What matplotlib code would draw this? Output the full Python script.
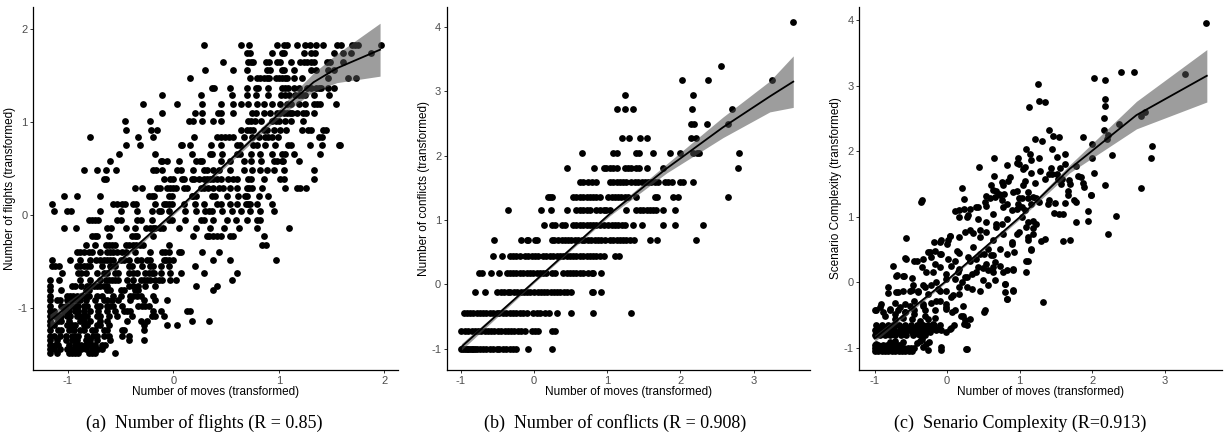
import numpy as np
from matplotlib import pyplot as plt

# ---------------------------------------------------------------- data
# (a) number of flights: one list of move values per flight level
flightLevels = [1.83, 1.74, 1.65, 1.56, 1.47, 1.37, 1.29, 1.20, 1.10, 1.01,
                0.92, 0.84, 0.75, 0.66, 0.58, 0.48, 0.39, 0.29, 0.20, 0.12,
                0.04, -0.05, -0.14, -0.23, -0.32, -0.40, -0.48, -0.55,
                -0.63, -0.70, -0.76, -0.81, -0.87, -0.92, -0.98, -1.03,
                -1.09, -1.14, -1.18, -1.24, -1.30, -1.35, -1.40, -1.44, -1.49]
movesByFlightLevel = [
  [0.29, 0.64, 0.72, 0.98, 1.05, 1.08, 1.17, 1.25, 1.30, 1.35, 1.42, 1.55,
   1.59, 1.69, 1.72, 1.75, 1.97],
  [0.70, 0.73, 0.94, 1.03, 1.05, 1.24, 1.31, 1.34, 1.52, 1.61, 1.68, 1.87],
  [0.47, 0.71, 0.74, 0.76, 0.88, 0.91, 0.98, 1.01, 1.12, 1.20, 1.24, 1.27,
   1.31, 1.33, 1.46, 1.49, 1.61],
  [0.30, 0.57, 0.70, 0.89, 0.92, 1.03, 1.05, 1.14, 1.31, 1.35, 1.47, 1.52],
  [0.16, 0.73, 0.79, 0.82, 0.86, 0.89, 0.91, 0.97, 1.00, 1.03, 1.06, 1.08,
   1.14, 1.22, 1.47, 1.66, 1.73],
  [0.37, 0.39, 0.54, 0.70, 0.78, 0.80, 0.90, 1.03, 1.06, 1.09, 1.14, 1.19,
   1.27, 1.31, 1.35, 1.38, 1.40, 1.47, 1.52],
  [-0.11, 0.26, 0.56, 0.70, 0.78, 0.90, 1.02, 1.06, 1.10, 1.15, 1.19, 1.22,
   1.25, 1.33, 1.48],
  [-0.29, 0.04, 0.27, 0.45, 0.57, 0.64, 0.71, 0.79, 0.86, 0.94, 1.01, 1.08,
   1.12, 1.19, 1.25, 1.33, 1.36, 1.39, 1.54],
  [-0.11, 0.21, 0.27, 0.42, 0.45, 0.57, 0.75, 0.78, 0.86, 0.92, 0.98, 1.01,
   1.05, 1.08, 1.11, 1.13, 1.17, 1.23, 1.26, 1.33],
  [-0.46, -0.22, 0.15, 0.19, 0.27, 0.38, 0.45, 0.71, 0.74, 0.77, 0.83, 0.94,
   0.97, 1.00, 1.06, 1.12, 1.23],
  [-0.45, -0.21, -0.15, 0.64, 0.70, 0.73, 0.76, 0.86, 0.89, 0.95, 1.01, 1.07,
   1.22, 1.28, 1.31, 1.42, 1.45],
  [-0.79, -0.33, -0.19, 0.20, 0.41, 0.45, 0.49, 0.53, 0.57, 0.67, 0.75, 0.81,
   0.87, 0.90, 0.94, 0.99, 1.38, 1.41],
  [-0.45, -0.32, 0.07, 0.08, 0.16, 0.36, 0.45, 0.60, 0.63, 0.76, 0.79, 0.87,
   0.96, 1.09, 1.12, 1.30, 1.41, 1.57, 1.58],
  [-0.51, -0.17, 0.18, 0.35, 0.37, 0.46, 0.60, 0.63, 0.74, 0.82, 0.94, 1.03,
   1.06, 1.14, 1.39],
  [-0.60, -0.12, -0.11, -0.06, 0.05, 0.22, 0.25, 0.27, 0.45, 0.54, 0.67, 0.74,
   0.83, 0.95, 0.98, 1.03, 1.04, 1.19],
  [-0.85, -0.72, -0.64, -0.54, -0.19, -0.16, -0.11, 0.04, 0.07, 0.19, 0.29,
   0.32, 0.38, 0.43, 0.54, 0.67, 0.75, 0.82, 0.89, 0.95, 1.05, 1.33],
  [-0.66, -0.64, -0.09, -0.03, 0.00, 0.08, 0.10, 0.18, 0.20, 0.24, 0.29, 0.32,
   0.35, 0.38, 0.41, 0.45, 0.52, 0.57, 0.60, 0.71, 0.74, 0.86, 1.01, 1.05,
   1.33],
  [-0.36, -0.30, -0.15, -0.13, -0.06, -0.03, 0.00, 0.03, 0.10, 0.13, 0.26,
   0.29, 0.33, 0.38, 0.43, 0.47, 0.54, 0.60, 0.70, 0.72, 0.75, 0.84, 1.06,
   1.17, 1.20, 1.26],
  [-1.04, -0.91, -0.69, -0.23, -0.20, -0.18, -0.04, -0.01, 0.18, 0.19, 0.22,
   0.37, 0.40, 0.51, 0.61, 0.68, 0.70, 0.81, 0.90],
  [-1.15, -0.57, -0.53, -0.49, -0.46, -0.38, -0.35, -0.17, -0.09, -0.07,
   -0.04, -0.01, 0.10, 0.21, 0.29, 0.41, 0.45, 0.54, 0.60, 0.69, 0.71, 0.73,
   0.79, 0.94],
  [-1.13, -1.01, -0.97, -0.69, -0.50, -0.34, -0.20, -0.14, -0.12, -0.04, 0.11,
   0.22, 0.30, 0.34, 0.37, 0.46, 0.56, 0.64, 0.73, 0.82, 0.95],
  [-0.80, -0.77, -0.74, -0.71, -0.53, -0.50, -0.34, -0.31, -0.20, -0.04,
   -0.01, 0.11, 0.26, 0.29, 0.38, 0.51, 0.59, 0.70, 0.79, 0.82],
  [-1.04, -0.92, -0.63, -0.59, -0.45, -0.36, -0.26, -0.22, -0.19, -0.17,
   -0.13, -0.10, 0.05, 0.22, 0.35, 0.48, 0.62, 0.79, 1.10],
  [-0.77, -0.74, -0.72, -0.61, -0.39, -0.36, -0.34, -0.19, 0.19, 0.32, 0.34,
   0.38, 0.41, 0.45, 0.54, 0.57, 0.86],
  [-0.83, -0.74, -0.64, -0.61, -0.58, -0.55, -0.45, -0.42, -0.38, -0.35,
   -0.32, -0.29, -0.04, 0.84, 0.88],
  [-0.91, -0.88, -0.85, -0.80, -0.77, -0.69, -0.63, -0.60, -0.57, -0.53,
   -0.49, -0.45, -0.36, -0.22, -0.11, -0.08, -0.04, 0.05, 0.07, 0.27, 0.43],
  [-1.15, -0.98, -0.88, -0.79, -0.73, -0.69, -0.66, -0.63, -0.60, -0.57,
   -0.50, -0.47, -0.42, -0.34, -0.31, -0.25, -0.22, -0.09, -0.07, -0.04,
   0.00, 0.38, 0.54, 0.97],
  [-1.15, -1.12, -1.08, -0.91, -0.88, -0.85, -0.82, -0.79, -0.68, -0.60,
   -0.55, -0.42, -0.39, -0.30, -0.22, -0.19, -0.12, -0.04, 0.21],
  [-1.05, -0.90, -0.87, -0.83, -0.72, -0.66, -0.63, -0.55, -0.52, -0.42,
   -0.38, -0.34, -0.27, -0.23, -0.20, -0.18, -0.12, -0.03, 0.07, 0.29, 0.60],
  [-1.17, -1.08, -0.88, -0.79, -0.69, -0.64, -0.61, -0.58, -0.55, -0.52,
   -0.44, -0.38, -0.31, -0.28, -0.25, -0.22, -0.17, -0.14, -0.11, -0.03,
   0.03, 0.56],
  [-1.17, -0.96, -0.93, -0.87, -0.82, -0.79, -0.75, -0.72, -0.69, -0.66,
   -0.63, -0.42, -0.38, -0.33, -0.27, -0.17, 0.22, 0.41],
  [-1.17, -1.06, -0.83, -0.80, -0.63, -0.60, -0.50, -0.47, -0.36, -0.33,
   0.38],
  [-1.17, -1.01, -0.98, -0.95, -0.91, -0.87, -0.83, -0.80, -0.72, -0.68,
   -0.57, -0.50, -0.41, -0.38, -0.34, -0.31, -0.19],
  [-1.17, -1.10, -1.07, -1.01, -0.96, -0.91, -0.88, -0.83, -0.74, -0.66,
   -0.63, -0.58, -0.52, -0.41, -0.28, -0.17, -0.06],
  [-1.17, -1.06, -1.02, -0.96, -0.93, -0.90, -0.85, -0.82, -0.72, -0.69,
   -0.63, -0.60, -0.57, -0.49, -0.33, -0.30, -0.27, -0.23],
  [-1.17, -1.13, -1.04, -0.99, -0.93, -0.90, -0.85, -0.79, -0.71, -0.63,
   -0.55, -0.47, -0.44, -0.41, -0.19, -0.12, 0.13, 0.16],
  [-1.17, -1.12, -1.09, -1.06, -1.01, -0.98, -0.91, -0.88, -0.85, -0.82,
   -0.72, -0.69, -0.61, -0.53, -0.39, -0.20, -0.17, -0.09],
  [-1.17, -1.09, -1.06, -0.99, -0.88, -0.85, -0.79, -0.69, -0.63, -0.44,
   -0.31, -0.25, 0.18, 0.34],
  [-1.17, -1.13, -1.01, -0.96, -0.93, -0.85, -0.82, -0.72, -0.69, -0.61,
   -0.28, -0.06, 0.04],
  [-1.17, -1.09, -1.06, -0.99, -0.94, -0.88, -0.85, -0.77, -0.74, -0.66,
   -0.63, -0.49, -0.47, -0.28],
  [-1.17, -1.13, -1.07, -1.02, -0.96, -0.93, -0.90, -0.82, -0.76, -0.72,
   -0.66, -0.61, -0.49, -0.42],
  [-1.17, -1.10, -1.02, -0.96, -0.91, -0.83, -0.79, -0.72, -0.60, -0.42,
   -0.28],
  [-1.17, -1.12, -1.09, -0.99, -0.93, -0.90, -0.87, -0.83, -0.80, -0.77,
   -0.74, -0.68, -0.65],
  [-1.17, -1.13, -1.07, -1.01, -0.98, -0.95, -0.90, -0.87, -0.83, -0.77,
   -0.74, -0.71, -0.68],
  [-1.17, -1.10, -0.99, -0.96, -0.93, -0.90, -0.80, -0.77, -0.74, -0.55],
]

# (b) number of conflicts: one list of move values per conflict level
conflictLevels = [4.07, 3.39, 3.17, 2.94, 2.72, 2.49, 2.27, 2.04, 1.81, 1.59,
                  1.36, 1.15, 0.93, 0.69, 0.44, 0.18, -0.12, -0.44, -0.73,
                  -1.00]
movesByConflictLevel = [
  [3.54],
  [2.56],
  [2.02, 2.38, 3.25],
  [1.24, 2.17],
  [1.13, 1.24, 1.35, 2.16, 2.71],
  [2.14, 2.18, 2.36, 2.65],
  [1.20, 1.30, 1.45, 1.54, 2.14, 2.21],
  [0.65, 1.08, 1.13, 1.40, 1.44, 1.62, 1.86, 1.99, 2.17, 2.22, 2.26, 2.80],
  [0.45, 0.82, 0.95, 0.99, 1.04, 1.08, 1.13, 1.24, 1.29, 1.33, 1.39, 1.44,
   1.54, 1.76, 2.79],
  [0.63, 0.67, 0.74, 0.79, 0.85, 1.04, 1.08, 1.13, 1.17, 1.22, 1.26, 1.33,
   1.38, 1.42, 1.47, 1.51, 1.56, 1.60, 1.65, 1.70, 1.79, 1.83, 1.88, 1.99,
   2.03, 2.17],
  [0.19, 0.22, 0.25, 0.54, 0.58, 0.63, 0.67, 0.72, 0.76, 0.81, 0.85, 0.90,
   1.01, 1.06, 1.10, 1.15, 1.19, 1.24, 1.28, 1.40, 1.65, 1.68, 1.90, 1.97,
   2.65],
  [-0.36, 0.10, 0.23, 0.45, 0.58, 0.63, 0.67, 0.72, 0.76, 0.85, 0.90, 0.95,
   0.99, 1.04, 1.26, 1.40, 1.45, 1.49, 1.54, 1.58, 1.63, 1.67, 1.76, 1.92],
  [0.14, 0.24, 0.29, 0.38, 0.42, 0.54, 0.58, 0.63, 0.67, 0.72, 0.76, 0.81,
   0.85, 0.90, 0.95, 1.01, 1.06, 1.10, 1.15, 1.20, 1.24, 1.35, 1.47, 1.76,
   1.92, 2.31],
  [-0.55, -0.18, -0.10, -0.08, 0.01, 0.04, 0.24, 0.28, 0.33, 0.38, 0.42,
   0.47, 0.51, 0.56, 0.60, 0.65, 0.69, 0.74, 0.78, 0.83, 0.87, 0.92, 0.97,
   1.04, 1.08, 1.13, 1.17, 1.22, 1.26, 1.31, 1.36, 1.59, 1.68, 2.21],
  [-0.56, -0.43, -0.33, -0.28, -0.24, -0.19, -0.12, -0.08, -0.03, 0.01, 0.06,
   0.13, 0.17, 0.22, 0.26, 0.31, 0.35, 0.40, 0.45, 0.49, 0.54, 0.58, 0.63,
   0.67, 0.72, 0.76, 0.81, 0.85, 0.90, 0.95, 1.10, 1.16],
  [-0.75, -0.71, -0.59, -0.47, -0.37, -0.33, -0.28, -0.24, -0.19, -0.15,
   -0.10, -0.06, -0.01, 0.04, 0.08, 0.13, 0.17, 0.24, 0.29, 0.40, 0.45, 0.49,
   0.54, 0.58, 0.63, 0.67, 0.74, 0.79, 0.81, 0.91],
  [-0.81, -0.67, -0.50, -0.45, -0.41, -0.36, -0.32, -0.27, -0.23, -0.18,
   -0.14, -0.09, -0.05, 0.00, 0.05, 0.09, 0.14, 0.18, 0.23, 0.27, 0.32, 0.36,
   0.41, 0.45, 0.50, 0.79, 0.81, 0.91],
  [-0.96, -0.92, -0.87, -0.83, -0.78, -0.74, -0.69, -0.65, -0.60, -0.56,
   -0.51, -0.47, -0.42, -0.38, -0.33, -0.29, -0.24, -0.19, -0.15, -0.10,
   -0.01, 0.04, 0.08, 0.15, 0.20, 0.31, 0.51, 0.81, 1.32],
  [-0.99, -0.94, -0.90, -0.85, -0.81, -0.76, -0.72, -0.67, -0.63, -0.58,
   -0.54, -0.49, -0.45, -0.40, -0.36, -0.31, -0.27, -0.22, -0.17, -0.12,
   -0.03, 0.01, 0.06, 0.24, 0.29],
  [-0.99, -0.97, -0.94, -0.92, -0.90, -0.87, -0.85, -0.83, -0.81, -0.78,
   -0.74, -0.69, -0.65, -0.60, -0.56, -0.51, -0.47, -0.42, -0.38, -0.33,
   -0.29, -0.24, -0.08, 0.25],
]

# (c) scenario complexity: (moves, complexity) pairs
complexityPoints = [
  (3.57, 3.96), (3.28, 3.18), (2.40, 3.21), (2.58, 3.21), (2.03, 3.12),
  (2.17, 3.08), (1.25, 3.02), (2.17, 2.79), (2.18, 2.69), (1.26, 2.76),
  (1.35, 2.75), (1.13, 2.67), (2.67, 2.53), (2.73, 2.59), (2.16, 2.51),
  (2.37, 2.42), (1.41, 2.32), (2.16, 2.32), (2.22, 2.25), (2.21, 2.19),
  (1.46, 2.23), (1.54, 2.21), (1.21, 2.18), (1.31, 2.15), (1.87, 2.21),
  (2.00, 2.11), (2.82, 2.08), (1.45, 2.04), (1.09, 2.03), (1.14, 1.96),
  (1.62, 1.95), (2.27, 1.94), (2.81, 1.90), (2.00, 1.90), (0.65, 1.90),
  (1.26, 1.89), (0.98, 1.89), (1.52, 1.91), (1.15, 1.86), (0.96, 1.82),
  (0.99, 1.80), (0.83, 1.79), (1.63, 1.80), (1.77, 1.77), (0.44, 1.76),
  (1.07, 1.76), (1.43, 1.74), (1.55, 1.75), (1.04, 1.72), (1.28, 1.70),
  (1.15, 1.67), (2.03, 1.66), (1.40, 1.65), (1.45, 1.65), (1.51, 1.65),
  (0.65, 1.62), (1.35, 1.58), (0.86, 1.61), (0.84, 1.55), (0.75, 1.53),
  (1.07, 1.54), (1.21, 1.51), (1.53, 1.58), (1.59, 1.58), (1.68, 1.56),
  (1.81, 1.62), (1.85, 1.61), (1.87, 1.51), (2.17, 1.49), (0.77, 1.49),
  (1.05, 1.48), (0.61, 1.48), (1.57, 1.50), (1.69, 1.50), (1.89, 1.45),
  (0.20, 1.43), (2.67, 1.43), (0.63, 1.41), (0.96, 1.39), (0.68, 1.39),
  (1.66, 1.39), (0.91, 1.37), (0.72, 1.35), (0.78, 1.35), (1.12, 1.38),
  (0.53, 1.31), (0.59, 1.29), (1.98, 1.33), (0.23, 1.27), (0.75, 1.26),
  (0.99, 1.28), (1.03, 1.28), (1.12, 1.29), (1.19, 1.30), (1.23, 1.28),
  (1.41, 1.26), (1.75, 1.26), (-0.35, 1.25), (-0.36, 1.22), (0.11, 1.09),
  (0.23, 1.12), (0.17, 0.99), (0.29, 1.02), (0.43, 1.15), (0.52, 1.22),
  (0.66, 1.30), (0.73, 1.33), (0.82, 1.20), (0.89, 1.10), (0.98, 1.20),
  (1.03, 1.15), (1.07, 1.10), (1.16, 1.20), (1.26, 1.22), (1.39, 1.20),
  (1.49, 1.21), (1.63, 1.21), (1.67, 1.33), (1.77, 1.22), (1.98, 1.33),
  (1.94, 1.09), (1.94, 0.93), (1.77, 0.92), (2.33, 1.01), (2.22, 0.73),
  (1.48, 1.06), (1.54, 1.04), (1.60, 1.04), (1.69, 0.64), (1.60, 0.63),
  (1.35, 0.66), (1.30, 0.63), (1.23, 0.89), (1.19, 0.82), (1.12, 0.92),
  (0.99, 0.76), (1.12, 0.69), (1.16, 0.49), (1.11, 0.33), (0.92, 0.46),
  (0.90, 0.61), (0.75, 0.89), (0.68, 0.84), (0.54, 0.92), (0.46, 0.79),
  (0.36, 0.75), (0.24, 0.76), (0.17, 0.69), (0.04, 0.71), (0.01, 0.64),
  (-0.09, 0.64), (-0.18, 0.61), (-0.56, 0.67), (0.17, 0.44), (0.29, 0.38),
  (0.40, 0.36), (0.51, 0.43), (0.57, 0.51), (0.61, 0.41), (0.66, 0.31),
  (0.73, 0.24), (0.82, 0.18), (0.91, 0.19), (0.43, 0.23), (0.50, 0.22),
  (0.57, 0.19), (0.63, 0.15), (0.34, 0.13), (0.24, 0.08), (0.15, 0.15),
  (0.06, 0.25), (0.01, 0.36), (-0.08, 0.43), (-0.17, 0.47), (-0.26, 0.46),
  (-0.33, 0.36), (-0.42, 0.32), (-0.56, 0.35), (-0.74, 0.24), (-0.69, 0.11),
  (-0.59, 0.09), (-0.48, 0.07), (-0.19, 0.15), (-0.10, 0.23), (-0.02, 0.13),
  (0.11, 0.05), (0.20, 0.00), (0.27, -0.08), (0.34, -0.10), (0.45, -0.13),
  (0.57, -0.05), (0.66, 0.03), (0.80, -0.03), (0.80, -0.15), (0.82, -0.25),
  (0.91, -0.12), (1.32, -0.30), (-0.81, -0.08), (-0.82, -0.16),
  (-0.68, -0.15), (-0.61, -0.13), (-0.49, -0.12), (-0.40, -0.13),
  (-0.31, -0.08), (-0.22, -0.05), (-0.12, -0.10), (-0.01, -0.13),
  (0.08, -0.20), (0.17, -0.18), (-0.91, -0.33), (-0.72, -0.31),
  (-0.58, -0.33), (-0.45, -0.28), (-0.33, -0.36), (-0.22, -0.31),
  (-0.10, -0.28), (-0.02, -0.38), (0.07, -0.46), (0.19, -0.51),
  (0.22, -0.37), (0.51, -0.46), (-0.98, -0.42), (-0.88, -0.46),
  (-0.79, -0.43), (-0.68, -0.42), (-0.58, -0.46), (-0.45, -0.43),
  (-0.31, -0.43), (-0.17, -0.43), (-0.72, -0.56), (-0.61, -0.54),
  (-0.49, -0.56), (-0.38, -0.59), (-0.26, -0.56), (-0.19, -0.64),
  (-0.33, -0.66), (0.23, -0.64), (0.25, -0.58), (0.10, -0.65),
  (0.05, -0.70), (-0.01, -0.76), (-0.97, -0.69), (-0.91, -0.71),
  (-0.84, -0.69), (-0.77, -0.70), (-0.70, -0.66), (-0.63, -0.69),
  (-0.56, -0.68), (-0.49, -0.69), (-0.42, -0.70), (-0.35, -0.71),
  (-0.29, -0.70), (-0.22, -0.71), (-0.15, -0.71), (-0.97, -0.78),
  (-0.91, -0.76), (-0.84, -0.78), (-0.77, -0.76), (-0.68, -0.76),
  (-0.58, -0.79), (-0.49, -0.76), (-0.40, -0.79), (-0.31, -0.78),
  (-0.24, -0.76), (-0.34, -0.87), (-0.25, -0.92), (-0.42, -0.93),
  (-0.33, -0.99), (-0.26, -1.03), (-0.08, -1.04), (0.26, -1.02),
  (-0.98, -0.95), (-0.93, -0.98), (-0.98, -1.03), (-0.98, -0.99),
  (-0.91, -1.03), (-0.84, -0.99), (-0.84, -1.04), (-0.77, -1.02),
  (-0.70, -0.99), (-0.70, -1.04), (-0.63, -1.00), (-0.56, -1.03),
  (-0.49, -1.02), (-0.72, -0.89), (-0.79, -0.92), (-0.61, -0.92),
  (-0.65, -0.97),
  # denser middle of the cloud
  (-0.58, 0.37), (-0.45, 0.33), (-0.35, 0.23), (-0.24, 0.46), (-0.22, 0.38),
  (-0.10, 0.43), (-0.17, 0.28), (-0.29, 0.15), (-0.10, 0.61), (0.04, 0.71),
  (0.00, 0.59), (0.13, 0.48), (0.11, 0.33), (0.17, 0.20), (0.27, 0.08),
  (-0.01, 0.05), (-0.15, 0.00), (-0.33, -0.05), (-0.47, -0.05),
  (-0.61, 0.10), (-0.70, 0.10), (-0.70, -0.15), (-0.51, -0.13),
  (-0.40, -0.15), (-0.26, -0.18), (-0.10, -0.13), (0.06, -0.23),
  (0.17, -0.08), (-0.01, -0.33), (-0.15, -0.28), (-0.33, -0.33),
  (-0.51, -0.36), (-0.65, -0.38), (-0.79, -0.41), (-0.93, -0.38),
  (-1.00, -0.43), (-0.86, -0.51), (-0.72, -0.48), (-0.58, -0.46),
  (-0.45, -0.48), (-0.31, -0.51), (-0.17, -0.54), (-0.01, -0.41),
  (0.11, -0.43), (0.22, -0.51), (0.31, -0.56), (0.52, -0.43),
  (0.27, -0.66), (0.04, -0.71), (-0.38, -0.89), (-0.29, -0.94),
  (-0.08, -0.99), (0.27, -1.02),
  (0.17, 1.10), (0.31, 1.12), (0.27, 0.99), (0.40, 1.15), (0.43, 0.97),
  (0.54, 1.17), (0.63, 1.04), (0.68, 0.89), (0.77, 1.15), (0.82, 0.97),
  (0.96, 1.12), (1.03, 0.99), (1.09, 0.84), (1.19, 0.94), (1.19, 0.74),
  (1.12, 0.64), (0.31, 0.79), (0.45, 0.69), (0.54, 0.76), (0.63, 0.64),
  (0.77, 0.74), (0.96, 0.74), (0.89, 0.59), (0.73, 0.51), (0.82, 0.43),
  (0.63, 0.41), (0.54, 0.28), (0.45, 0.43), (0.36, 0.54), (0.31, 0.33),
  (0.40, 0.15), (0.50, 0.03), (0.63, 0.23), (0.77, 0.15), (0.91, 0.20),
  (1.09, 0.33), (1.16, 0.51), (0.80, -0.03), (0.91, -0.13), (0.82, -0.25),
  (1.09, 0.15),
  # the two packed bands at the lower left
  (-1.00, -1.05), (-0.95, -1.05), (-0.90, -1.05), (-0.86, -1.05),
  (-0.81, -1.05), (-0.76, -1.05), (-0.72, -1.05), (-0.67, -1.05),
  (-0.62, -1.05), (-0.58, -1.05), (-0.53, -1.05), (-0.48, -1.05),
  (-0.99, -1.01), (-0.94, -1.01), (-0.89, -1.01), (-0.84, -1.01),
  (-0.79, -1.01), (-0.74, -1.01), (-0.69, -1.01), (-0.64, -1.01),
  (-0.59, -1.01), (-0.54, -1.01), (-0.50, -1.01), (-0.46, -1.01),
  (-1.00, -0.96), (-0.95, -0.96), (-0.88, -0.96), (-0.83, -0.96),
  (-0.78, -0.96), (-0.75, -0.96), (-0.70, -0.96), (-0.66, -0.96),
  (-0.98, -0.66), (-0.90, -0.66), (-0.82, -0.66), (-0.74, -0.66),
  (-0.66, -0.66), (-0.58, -0.66), (-0.50, -0.66), (-0.42, -0.66),
  (-0.34, -0.66), (-0.26, -0.66), (-0.18, -0.66), (-0.10, -0.66),
  (-1.00, -0.73), (-0.95, -0.73), (-0.88, -0.73), (-0.80, -0.73),
  (-0.73, -0.73), (-0.65, -0.73), (-0.58, -0.73), (-0.51, -0.73),
  (-0.44, -0.73), (-0.37, -0.73), (-0.30, -0.73), (-0.23, -0.73),
  (-0.16, -0.73), (-0.09, -0.73),
  (-0.99, -0.80), (-0.93, -0.80), (-0.86, -0.80), (-0.79, -0.80),
  (-0.72, -0.80), (-0.64, -0.80), (-0.56, -0.80), (-0.47, -0.80),
  (-0.38, -0.80), (-0.30, -0.80),
]

# smoothed trend with its confidence half-width
smoothMovesA = [-1.17, -0.85, 0.07, 0.92, 1.11, 1.33, 1.55, 1.96]
smoothFitA = [-1.14, -0.84, 0.09, 1.00, 1.21, 1.43, 1.58, 1.78]
smoothHalfA = [0.07, 0.03, 0.02, 0.035, 0.065, 0.10, 0.155, 0.285]

smoothMovesB = [-0.99, 0.00, 1.04, 1.81, 2.58, 3.22, 3.54]
smoothFitB = [-0.97, 0.04, 1.10, 1.80, 2.44, 2.92, 3.15]
smoothHalfB = [0.05, 0.02, 0.03, 0.07, 0.16, 0.24, 0.40]

smoothMovesC = [-1.00, 0.00, 1.00, 1.69, 2.61, 3.58]
smoothFitC = [-0.86, 0.03, 0.99, 1.73, 2.55, 3.15]
smoothHalfC = [0.05, 0.02, 0.03, 0.06, 0.21, 0.40]

xTicksA = [-1, 0, 1, 2]
yTicksA = [-1, 0, 1, 2]
xTicksBC = [-1, 0, 1, 2, 3]
yTicksBC = [-1, 0, 1, 2, 3, 4]

xLabel = "Number of moves (transformed)"
captions = ["(a)  Number of flights (R = 0.85)",
            "(b)  Number of conflicts (R = 0.908)",
            "(c)  Senario Complexity (R=0.913)"]


def expandRows(levels, rows):
  xs, ys = [], []
  for level, row in zip(levels, rows):
    xs.extend(row)
    ys.extend([level] * len(row))
  return np.array(xs), np.array(ys)


def drawPanel(ax, xs, ys, smoothX, smoothFit, smoothHalf, yLabel,
              xlim, ylim, xticks, yticks):
  ax.scatter(xs, ys, s=24, color="black", linewidths=0, zorder=2)
  fit = np.array(smoothFit)
  half = np.array(smoothHalf)
  ax.fill_between(smoothX, fit - half, fit + half, color="#4d4d4d",
                  alpha=0.55, linewidth=0, zorder=3)
  ax.plot(smoothX, fit, color="black", linewidth=1.3, zorder=4)

  ax.set_xlim(*xlim)
  ax.set_ylim(*ylim)
  ax.set_xticks(xticks)
  ax.set_yticks(yticks)
  ax.spines["top"].set_visible(False)
  ax.spines["right"].set_visible(False)
  for side in ("left", "bottom"):
    ax.spines[side].set_linewidth(0.9)
  ax.tick_params(length=2.5, width=0.7, color="#333333", labelsize=8,
                 labelcolor="#4d4d4d", pad=1.5)
  ax.set_xlabel(xLabel, fontsize=8.5, labelpad=0)
  ax.set_ylabel(yLabel, fontsize=8.5, labelpad=1)


plt.rcParams["font.family"] = ["Liberation Sans", "DejaVu Sans"]
plt.rcParams["axes.unicode_minus"] = False
fig = plt.figure(figsize=(12.25, 4.42), dpi=100)

axA = fig.add_axes([0.0269, 0.1629, 0.298, 0.8213])
axB = fig.add_axes([0.3647, 0.1629, 0.2966, 0.8213])
axC = fig.add_axes([0.7015, 0.1629, 0.2961, 0.8213])

xA, yA = expandRows(flightLevels, movesByFlightLevel)
drawPanel(axA, xA, yA, smoothMovesA, smoothFitA, smoothHalfA,
          "Number of flights (transformed)", (-1.33, 2.13), (-1.67, 2.24),
          xTicksA, yTicksA)

xB, yB = expandRows(conflictLevels, movesByConflictLevel)
drawPanel(axB, xB, yB, smoothMovesB, smoothFitB, smoothHalfB,
          "Number of conflicts (transformed)", (-1.19, 3.77), (-1.33, 4.31),
          xTicksBC, yTicksBC)

pts = np.array(complexityPoints)
drawPanel(axC, pts[:, 0], pts[:, 1], smoothMovesC, smoothFitC, smoothHalfC,
          "Scenario Complexity (transformed)", (-1.21, 3.79), (-1.34, 4.2),
          xTicksBC, yTicksBC)

for xc, caption in zip([0.167, 0.502, 0.833], captions):
  fig.text(xc, 0.043, caption, ha="center", va="center", fontsize=13,
           family=["Liberation Serif", "DejaVu Serif"])

plt.savefig("out.png", dpi=100)
